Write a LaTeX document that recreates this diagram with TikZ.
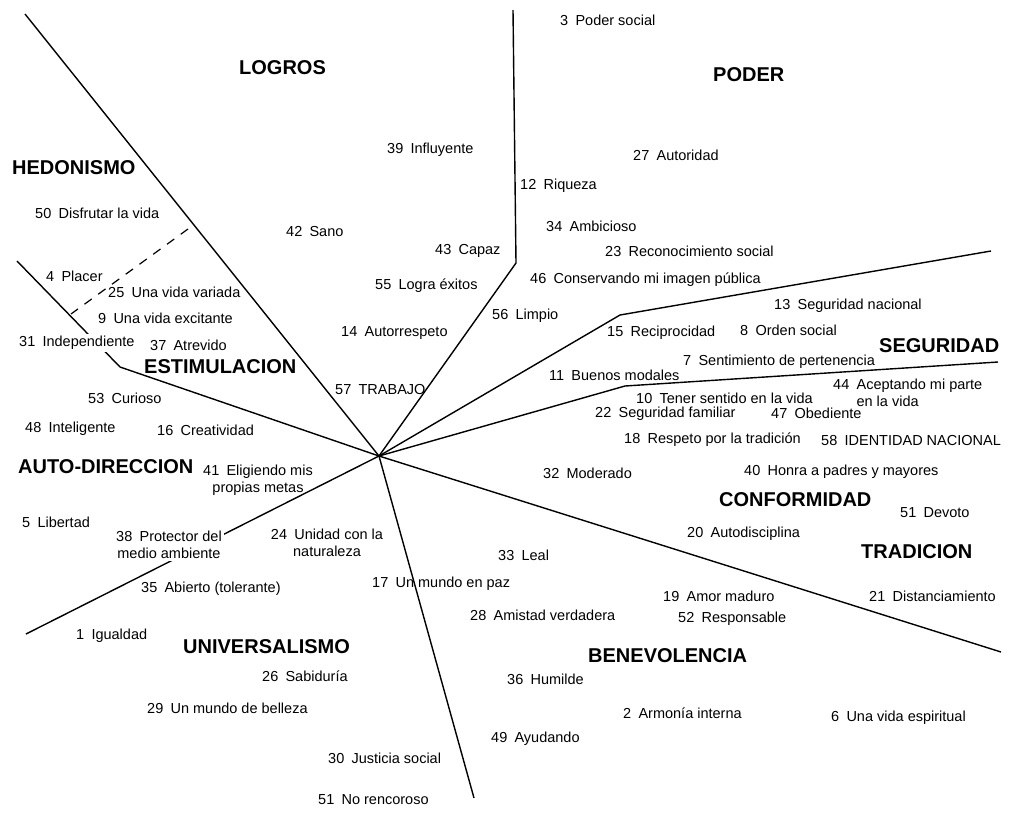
\documentclass[tikz,border=0pt]{standalone}
\usepackage{fontspec}
\setmainfont{Liberation Sans}
\begin{document}
\begin{tikzpicture}[
    x=1pt, y=-1pt,
    val/.style={anchor=west, inner sep=0pt, font=\fontsize{14.5}{17}\selectfont},
    vtwo/.style={val, anchor=center, align=center},
    cover/.style={fill=white, inner xsep=2pt, inner ysep=2pt},
    grp/.style={anchor=west, inner sep=0pt, font=\fontsize{20}{22}\selectfont\bfseries},
    border/.style={line width=1.4pt, line join=round},
    split/.style={line width=1.2pt, dash pattern=on 9pt off 8pt}
]
\useasboundingbox (0,0) rectangle (1011,812);

%  -- Region borders  --
\coordinate (c)  at (379,456);
\coordinate (eA) at (25,14);
\coordinate (kB) at (120,367);
\coordinate (eB) at (17,261);
\coordinate (kC) at (516,263);
\coordinate (eC) at (513,10);
\coordinate (kD) at (620,315);
\coordinate (eD) at (991,251);
\coordinate (kE) at (625,386);
\coordinate (eE) at (998,362);
\coordinate (eF) at (1001,652);
\coordinate (eG) at (474,798);
\coordinate (eH) at (26,634);
\coordinate (dA) at (188,229);
\coordinate (dB) at (71,314);
\draw[border] (eA) -- (c);
\draw[border] (eB) -- (kB) -- (c);
\draw[border] (eC) -- (kC) -- (c);
\draw[border] (eD) -- (kD) -- (c);
\draw[border] (eE) -- (kE) -- (c);
\draw[border] (eF) -- (c);
\draw[border] (eG) -- (c);
\draw[border] (eH) -- (c);
\draw[split] (dA) -- (dB);

%  -- Value types  --
\node[grp] (logros)        at (239,68)  {LOGROS};
\node[grp] (poder)         at (713,75)  {PODER};
\node[grp] (hedonismo)     at (12,168)  {HEDONISMO};
\node[grp] (estimulacion)  at (144,367) {ESTIMULACION};
\node[grp] (seguridad)     at (879,346) {SEGURIDAD};
\node[grp] (autodir)       at (18,467)  {AUTO-DIRECCION};
\node[grp] (conformidad)   at (719,500) {CONFORMIDAD};
\node[grp] (tradicion)     at (861,552) {TRADICION};
\node[grp] (universalismo) at (183,647) {UNIVERSALISMO};
\node[grp] (benevolencia)  at (588,656) {BENEVOLENCIA};

%  -- Values, top half  --
\node[val] (v3)  at (560,20)  {3\enspace Poder social};
\node[val] (v39) at (387,150) {39\enspace Influyente};
\node[val] (v27) at (633,155) {27\enspace Autoridad};
\node[val] (v12) at (520,186) {12\enspace Riqueza};
\node[val] (v50) at (35,213)  {50\enspace Disfrutar la vida};
\node[val] (v34) at (546,226) {34\enspace Ambicioso};
\node[val] (v42) at (286,232) {42\enspace Sano};
\node[val] (v43) at (435,251) {43\enspace Capaz};
\node[val] (v23) at (605,251) {23\enspace Reconocimiento social};
\node[val] (v4)  at (46,276)  {4\enspace Placer};
\node[val] (v46) at (530,280) {46\enspace Conservando mi imagen pública};
\node[val] (v55) at (375,286) {55\enspace Logra éxitos};
\node[val] (v25) at (108,292) {25\enspace Una vida variada};
\node[val] (v13) at (774,306) {13\enspace Seguridad nacional};
\node[val] (v56) at (492,316) {56\enspace Limpio};
\node[val] (v9)  at (98,318)  {9\enspace Una vida excitante};
\node[val] (v8)  at (740,330) {8\enspace Orden social};
\node[val] (v14) at (341,333) {14\enspace Autorrespeto};
\node[val] (v15) at (607,333) {15\enspace Reciprocidad};
\node[val, cover] (v31) at (17,343) {31\enspace Independiente};
\node[val] (v37) at (150,345) {37\enspace Atrevido};
\node[val] (v7)  at (683,362) {7\enspace Sentimiento de pertenencia};
\node[val] (v11) at (549,375) {11\enspace Buenos modales};
\node[val] (v57) at (335,389) {57\enspace TRABAJO};
\node[val, align=left] (v44) at (833,393) {44\enspace Aceptando mi parte\\\phantom{44}\enspace en la vida};
\node[val] (v53) at (88,398)  {53\enspace Curioso};
\node[val] (v10) at (636,398) {10\enspace Tener sentido en la vida};
\node[val] (v22) at (595,414) {22\enspace Seguridad familiar};
\node[val] (v47) at (771,413) {47\enspace Obediente};
\node[val] (v48) at (25,429)  {48\enspace Inteligente};
\node[val] (v16) at (157,430) {16\enspace Creatividad};
\node[val] (v18) at (624,440) {18\enspace Respeto por la tradición};
\node[val] (v58) at (821,440) {58\enspace IDENTIDAD NACIONAL};

%  -- Values, bottom half  --
\node[vtwo] (v41) at (258,480) {41\enspace Eligiendo mis\\propias metas};
\node[val] (v40) at (744,472) {40\enspace Honra a padres y mayores};
\node[val] (v32) at (543,473) {32\enspace Moderado};
\node[val] (v51d) at (900,513) {51\enspace Devoto};
\node[val] (v5)  at (22,522)  {5\enspace Libertad};
\node[val] (v20) at (687,534) {20\enspace Autodisciplina};
\node[vtwo, cover] (v38) at (169,545) {38\enspace Protector del\\medio ambiente};
\node[vtwo] (v24) at (327,543) {24\enspace Unidad con la\\naturaleza};
\node[val] (v33) at (498,555) {33\enspace Leal};
\node[val] (v17) at (372,584) {17\enspace Un mundo en paz};
\node[val] (v35) at (141,589) {35\enspace Abierto (tolerante)};
\node[val] (v19) at (663,596) {19\enspace Amor maduro};
\node[val] (v21) at (869,596) {21\enspace Distanciamiento};
\node[val] (v28) at (470,615) {28\enspace Amistad verdadera};
\node[val] (v52) at (678,619) {52\enspace Responsable};
\node[val] (v1)  at (76,636)  {1\enspace Igualdad};
\node[val] (v26) at (262,676) {26\enspace Sabiduría};
\node[val] (v36) at (507,679) {36\enspace Humilde};
\node[val] (v29) at (147,708) {29\enspace Un mundo de belleza};
\node[val] (v2)  at (623,713) {2\enspace Armonía interna};
\node[val] (v6)  at (831,718) {6\enspace Una vida espiritual};
\node[val] (v49) at (491,739) {49\enspace Ayudando};
\node[val] (v30) at (328,758) {30\enspace Justicia social};
\node[val] (v51n) at (318,800) {51\enspace No rencoroso};

\end{tikzpicture}
\end{document}
